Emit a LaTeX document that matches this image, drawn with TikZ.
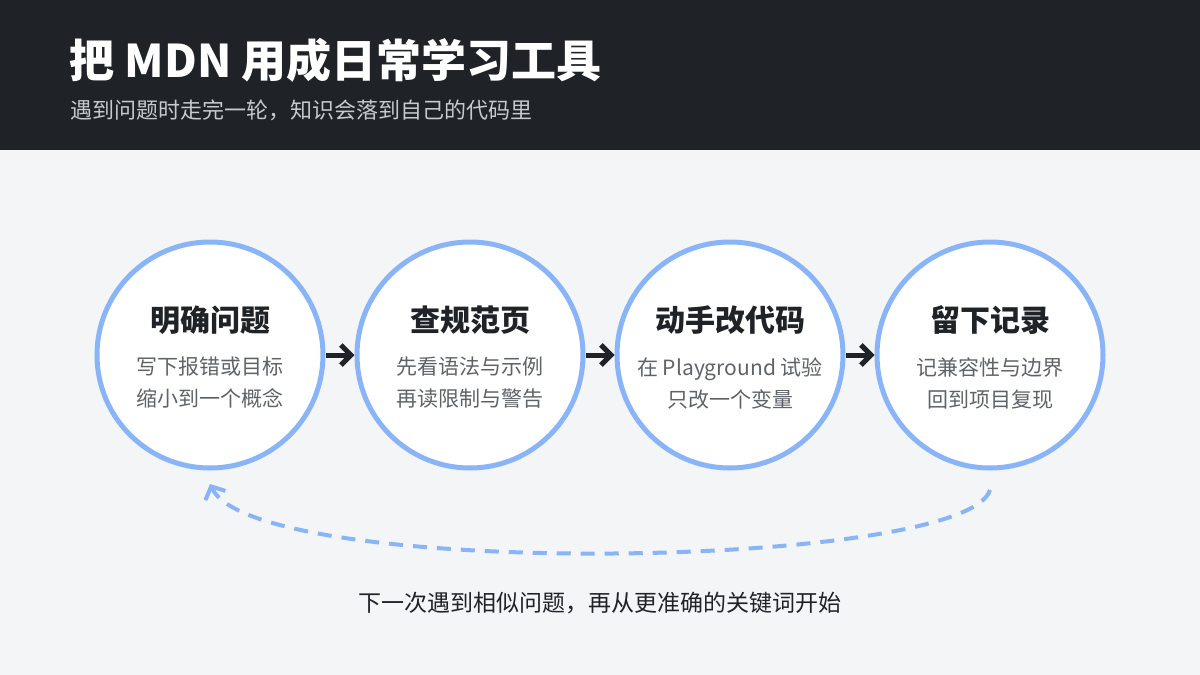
\documentclass[tikz,border=0pt]{standalone}
\usepackage{fontspec}
\setmainfont{Noto Sans CJK SC}
\usetikzlibrary{arrows.meta}
\definecolor{dark}{HTML}{1F2327}
\definecolor{bg}{HTML}{F3F5F7}
\definecolor{ring}{HTML}{8AB4F8}
\definecolor{sub}{HTML}{5F6368}
\definecolor{hsub}{HTML}{C4CAD0}
\begin{document}
\begin{tikzpicture}[x=1pt,y=-1pt,
  stepc/.style={circle,draw=ring,line width=5pt,fill=white,minimum size=226pt,inner sep=0},
  ttl/.style={font=\fontsize{30}{34}\selectfont\bfseries,text=dark},
  desc/.style={font=\fontsize{21}{32}\selectfont,text=sub,align=center},
  arr/.style={-{Straight Barb[length=10pt,width=20pt]},line width=5pt,draw=dark}]
\useasboundingbox (0,0) rectangle (1200,675);
\fill[bg] (0,0) rectangle (1200,675);
\fill[dark] (0,0) rectangle (1200,150);
\node[anchor=west,text=white,font=\fontsize{45}{50}\selectfont\bfseries] (t) at (66,60) {把 MDN 用成日常学习工具};
\node[anchor=west,text=hsub,font=\fontsize{22}{26}\selectfont] (s) at (67,110) {遇到问题时走完一轮，知识会落到自己的代码里};
\foreach \i/\x/\a/\b/\c in {1/210/明确问题/写下报错或目标/缩小到一个概念,2/470/查规范页/先看语法与示例/再读限制与警告,3/730/动手改代码/在 Playground 试验/只改一个变量,4/990/留下记录/记兼容性与边界/回到项目复现}{
  \node[stepc] (c\i) at (\x,355) {};
  \node[ttl] (h\i) at (\x,320) {\a};
  \node[desc] (d\i) at (\x,383) {\b\\\c};
}
\draw[arr] (c1) -- (c2);
\draw[arr] (c2) -- (c3);
\draw[arr] (c3) -- (c4);
\coordinate (e1) at (990,490);
\coordinate (e2) at (210,484);
\draw[ring,line width=4pt,dash pattern=on 14pt off 10pt,-{Straight Barb[length=10pt,width=22pt]}]
  (e1) .. controls (965,570) and (255,580) .. (e2);
\node[font=\fontsize{23}{26}\selectfont,text=dark] (f) at (600,603) {下一次遇到相似问题，再从更准确的关键词开始};
\end{tikzpicture}
\end{document}
